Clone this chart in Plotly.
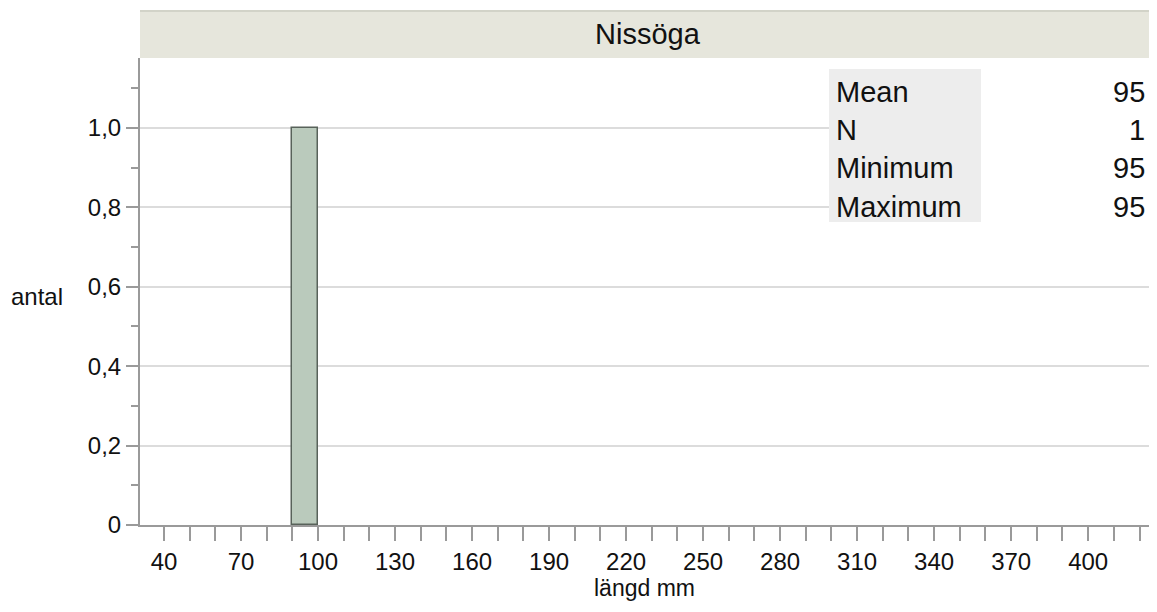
import plotly.graph_objects as go

# Data
species = "Nissöga"
bin_centers = [95]
bin_width = 10
counts = [1]
stat_labels = ["Mean", "N", "Minimum", "Maximum"]
stat_values = ["95", "1", "95", "95"]
x_tick_values = list(range(40, 430, 10))
x_tick_labels = [str(v) if (v - 40) % 30 == 0 else "" for v in x_tick_values]
y_tick_values = [0, 0.2, 0.4, 0.6, 0.8, 1.0]
y_tick_labels = ["0", "0,2", "0,4", "0,6", "0,8", "1,0"]
y_minor_values = [0.1, 0.3, 0.5, 0.7, 0.9, 1.1]

OFF = 8  # page body margin
W, H = 1157 - 2 * OFF, 612 - 2 * OFF
ml, mr, mt = 140 - OFF, 0, 58 - OFF
ph = 467
mb = H - mt - ph
pw = W - ml - mr

FONT = "Liberation Sans, Arial, Helvetica, sans-serif"

fig = go.Figure()
fig.add_trace(go.Bar(
    x=bin_centers, y=counts, width=[bin_width] * len(counts),
    marker=dict(color="#bacabc", line=dict(color="#58625a", width=1.5)),
    hoverinfo="skip", showlegend=False,
))


def px_x(p):
    return (p - OFF - ml) / pw


def px_y(p):
    return 1 - (p - OFF - mt) / ph


# header strip
hdr_top = px_y(11)
fig.add_shape(type="rect", xref="paper", yref="paper", x0=0, x1=1, y0=1, y1=hdr_top,
              fillcolor="#e6e6dc", line=dict(width=0), layer="above")
fig.add_shape(type="line", xref="paper", yref="paper", x0=0, x1=1, y0=hdr_top, y1=hdr_top,
              line=dict(color="#d2d3c8", width=2), layer="above")
fig.add_annotation(text=species, xref="paper", yref="paper", x=px_x(648), y=px_y(34),
                   showarrow=False, font=dict(family=FONT, size=29, color="#111"),
                   xanchor="center", yanchor="middle")

# stats box
fig.add_shape(type="rect", xref="paper", yref="paper", x0=px_x(981), x1=px_x(1152),
              y0=px_y(222), y1=px_y(69), fillcolor="white", line=dict(width=0), layer="above")
fig.add_shape(type="rect", xref="paper", yref="paper", x0=px_x(829), x1=px_x(981),
              y0=px_y(222), y1=px_y(69), fillcolor="#ededed", line=dict(width=0), layer="above")
row_y = [92, 130, 168, 207]
for lab, val, ry in zip(stat_labels, stat_values, row_y):
    fig.add_annotation(text=lab, xref="paper", yref="paper", x=px_x(834), y=px_y(ry),
                       xanchor="left", yanchor="middle", showarrow=False,
                       font=dict(family=FONT, size=29, color="#111"))
    fig.add_annotation(text=val, xref="paper", yref="paper", x=px_x(1147), y=px_y(ry),
                       xanchor="right", yanchor="middle", showarrow=False,
                       font=dict(family=FONT, size=29, color="#111"))

# y axis title
fig.add_annotation(text="antal", xref="paper", yref="paper", x=px_x(9), y=px_y(296),
                   xanchor="left", yanchor="middle", showarrow=False,
                   font=dict(family=FONT, size=24, color="#111"))

fig.update_layout(
    width=W, height=H,
    margin=dict(l=ml, r=mr, t=mt, b=mb, pad=0),
    paper_bgcolor="white", plot_bgcolor="white",
    separators=",.",
    font=dict(family=FONT, size=24, color="#111"),
    bargap=0,
)
fig.update_xaxes(
    range=[30.65, 423.7], tickmode="array", tickvals=x_tick_values, ticktext=x_tick_labels,
    ticks="outside", ticklen=14, tickcolor="#9a9a9a", tickwidth=2,
    showline=True, linecolor="#9a9a9a", linewidth=2, showgrid=False, zeroline=False,
    title=dict(text="längd mm", font=dict(size=23), standoff=2),
    tickfont=dict(size=24),
)
fig.update_yaxes(
    range=[0, 1.176], tickmode="array", tickvals=y_tick_values, ticktext=y_tick_labels,
    ticks="outside", ticklen=12, tickcolor="#9a9a9a", tickwidth=2,
    minor=dict(tickvals=y_minor_values, ticks="outside", ticklen=7,
               tickcolor="#9a9a9a", tickwidth=2, showgrid=False),
    showline=True, linecolor="#9a9a9a", linewidth=2,
    showgrid=True, gridcolor="#dcdcdc", gridwidth=1.5, zeroline=False,
    tickfont=dict(size=24),
)

fig.write_html("out.html")
